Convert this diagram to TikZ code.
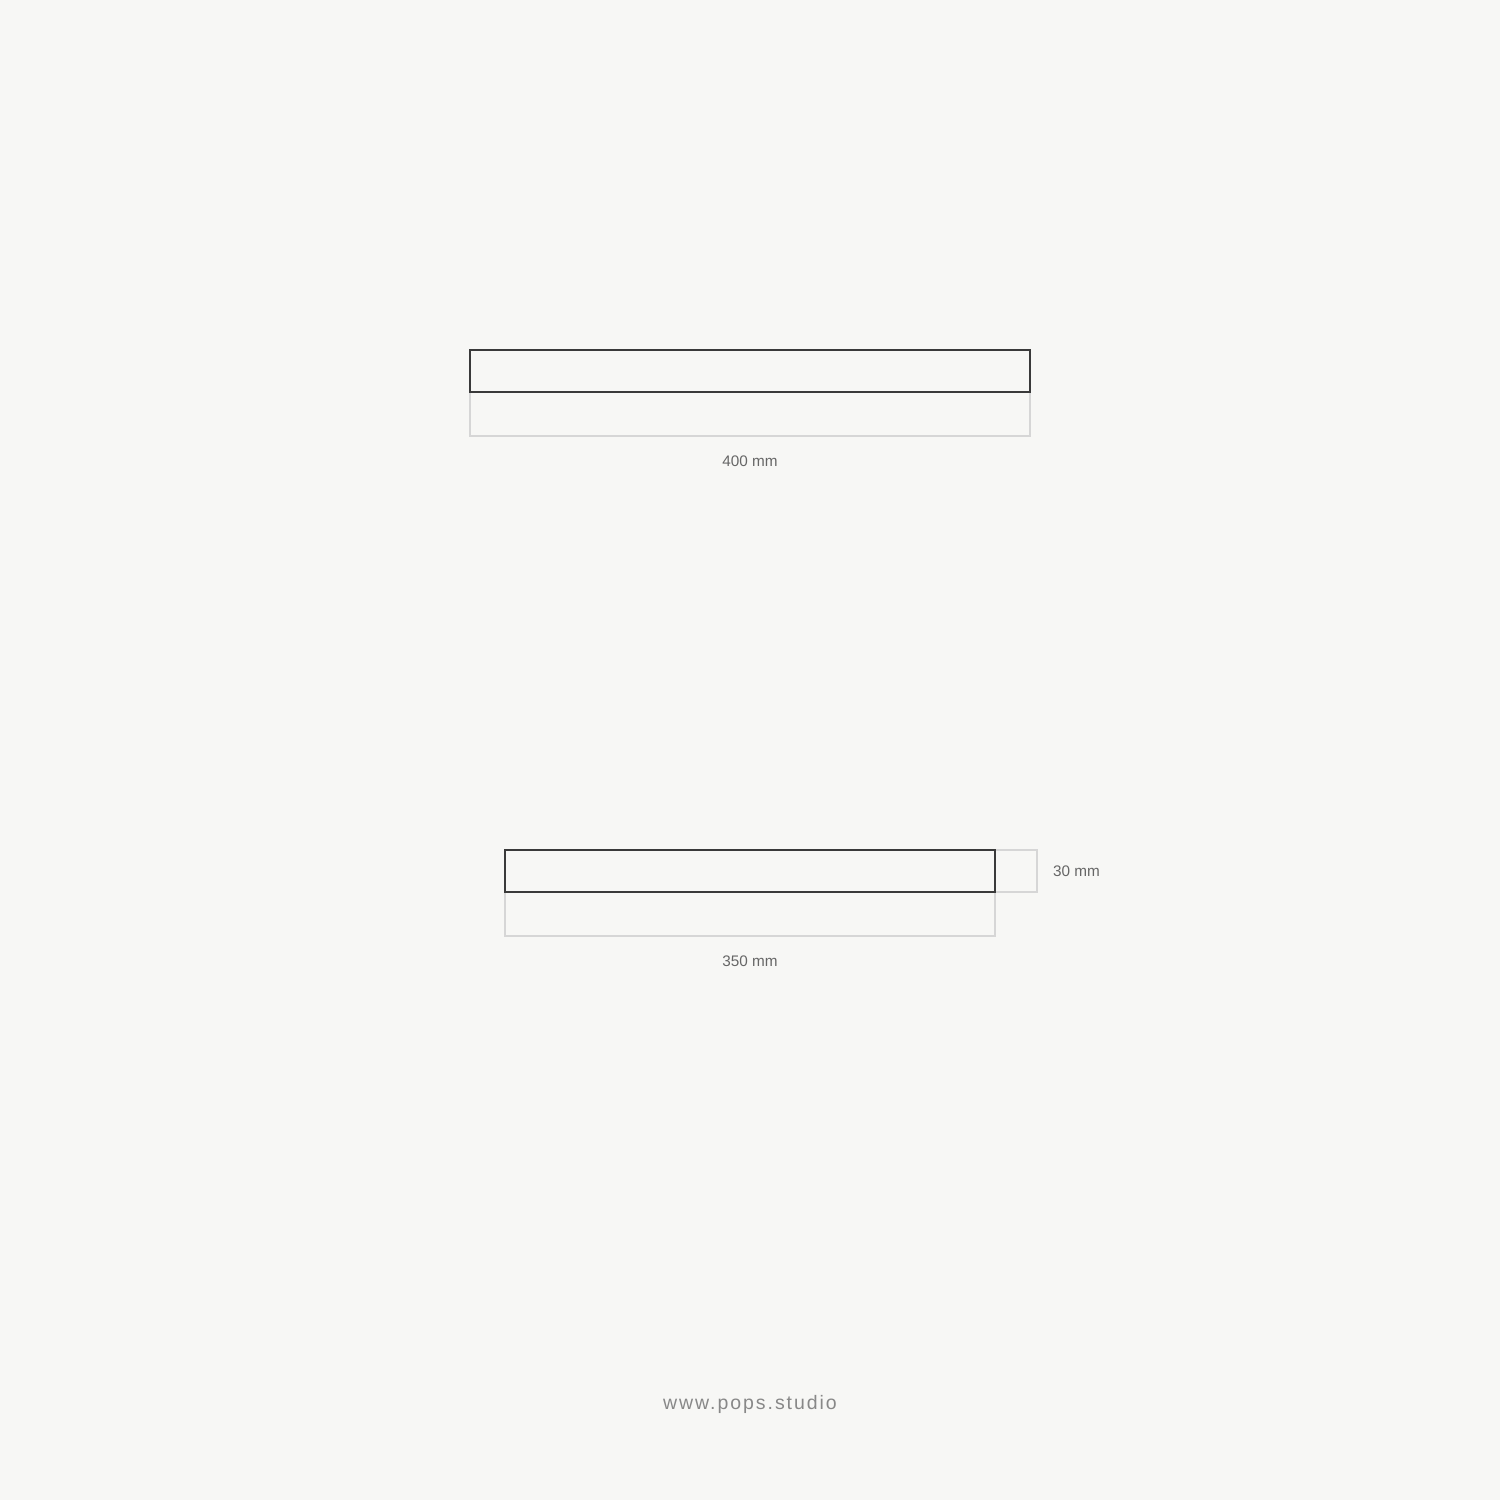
\documentclass[tikz,border=0pt]{standalone}
\usepackage{fontspec}
\setmainfont{Liberation Sans}
\newfontfamily\urlfont[LetterSpace=10]{Liberation Sans}
\definecolor{bg}{HTML}{F7F7F5}
\definecolor{dark}{HTML}{3A3A3A}
\definecolor{light}{HTML}{D6D6D6}
\definecolor{lbl}{HTML}{666666}
\definecolor{urlc}{HTML}{888888}
\tikzset{
  x=1pt, y=-1pt,
  darkbox/.style={draw=dark, line width=2pt},
  lightbox/.style={draw=light, line width=2pt},
  dimlabel/.style={text=lbl, font=\fontsize{15.3}{17}\selectfont, inner sep=0pt},
  urllabel/.style={text=urlc, font=\urlfont\fontsize{19.5}{22}\selectfont, inner sep=0pt}
}
\begin{document}
\begin{tikzpicture}
\fill[bg] (0,0) rectangle (1500,1500);
\useasboundingbox (0,0) rectangle (1500,1500);
% top
\draw[lightbox] (470,392) rectangle (1030,436);
\draw[darkbox] (470,350) rectangle (1030,392);
\node[dimlabel] (l400) at (750,461) {400 mm};
% bottom
\draw[lightbox] (505,892) rectangle (995,936);
\draw[lightbox] (995,850) rectangle (1037,892);
\draw[darkbox] (505,850) rectangle (995,892);
\node[dimlabel] (l350) at (750,961) {350 mm};
\node[dimlabel, anchor=west] (l30) at (1053,871) {30 mm};
\node[urllabel] (url) at (750,1404) {www.pops.studio};
\end{tikzpicture}
\end{document}
